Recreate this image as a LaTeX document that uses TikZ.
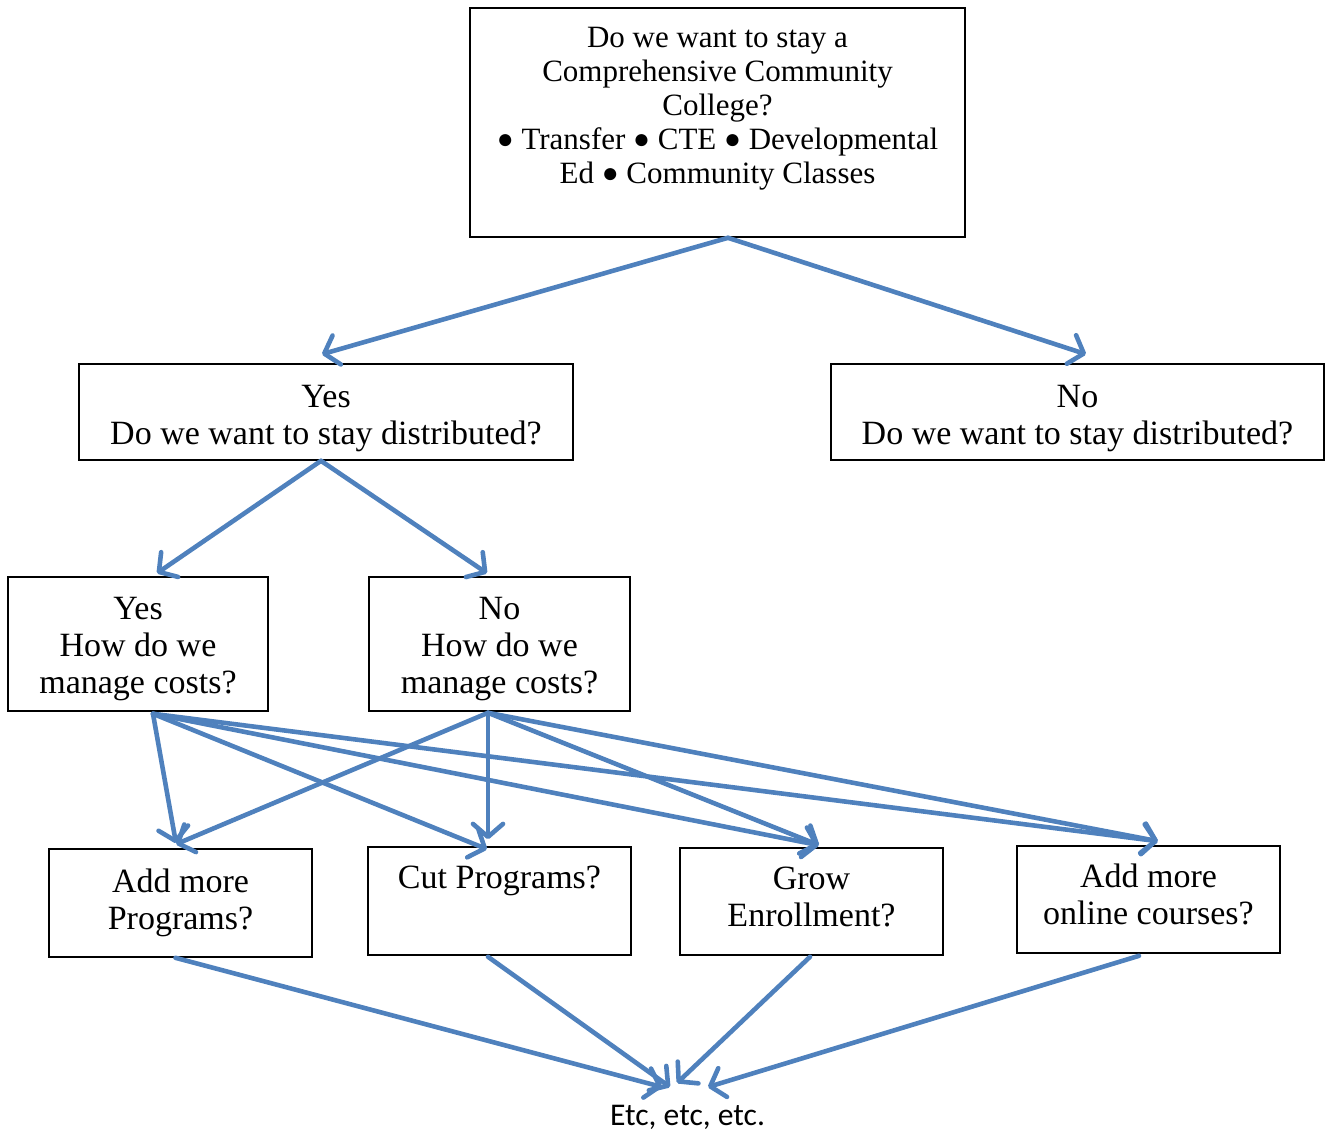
\documentclass[tikz,border=0pt]{standalone}
\usepackage{fontspec}
\setmainfont{Liberation Serif}
\newfontfamily\etcfont{Carlito}
\usetikzlibrary{arrows.meta}
\definecolor{arrowblue}{HTML}{4F81BD}
\newcommand{\tophgt}[1]{\rule{0pt}{#1}}
\newcommand{\botdep}[1]{\rule[-#1]{0pt}{0pt}}
\newcommand{\bul}{\raisebox{1.2pt}{\fontsize{28}{34}\selectfont ●}}
\begin{document}
\begin{tikzpicture}[x=1pt,y=-1pt,
 box/.style={draw=black,line width=1.6pt,inner sep=0pt,align=center,font=\fontsize{34}{37}\selectfont},
 conn/.style={draw=arrowblue,line width=4.6pt,line cap=round,-{Straight Barb[length=13pt,width=30pt,round]}}
]
\useasboundingbox (0,0) rectangle (1325,1133);
\node[box,minimum width=495pt,minimum height=229pt,font=\fontsize{31}{34}\selectfont] (top) at (717.5,122.5) {Do we want to stay a\\Comprehensive Community\\College?\\\bul{} Transfer \bul{} CTE \bul{} Developmental\\Ed \bul{} Community Classes\\\mbox{}};
\node[box,minimum width=494pt,minimum height=96pt] (yes) at (326,412) {\tophgt{35pt}Yes\\Do we want to stay distributed?};
\node[box,minimum width=493pt,minimum height=96pt] (no) at (1077.5,412) {\tophgt{35pt}No\\Do we want to stay distributed?};
\node[box,minimum width=260pt,minimum height=134pt] (yhow) at (138,644) {\tophgt{32pt}Yes\\How do we\\manage costs?};
\node[box,minimum width=261pt,minimum height=134pt] (nhow) at (499.5,644) {\tophgt{32pt}No\\How do we\\manage costs?};
\node[box,minimum width=263pt,minimum height=108pt] (addp) at (180.5,903) {Add more\\Programs?};
\node[box,minimum width=263pt,minimum height=108pt] (cut) at (499.5,901) {Cut Programs?\\\mbox{}\botdep{10pt}};
\node[box,minimum width=263pt,minimum height=107pt] (grow) at (811.5,901.5) {Grow\\Enrollment?\botdep{10pt}};
\node[box,minimum width=263pt,minimum height=107pt] (online) at (1148.5,899.5) {Add more\\online courses?\botdep{10pt}};
\node[font=\etcfont\fontsize{31.6}{36}\selectfont,anchor=base,inner sep=0pt] (etc) at (687.5,1125) {Etc, etc, etc.};
% top level
\draw[conn] ([xshift=10.5pt]top.south) -- ([xshift=-4pt,yshift=9pt]yes.north);
\draw[conn] ([xshift=10.5pt]top.south) -- ([xshift=8.5pt,yshift=9pt]no.north);
% second level
\draw[conn] ([xshift=-5pt]yes.south) -- ([xshift=19pt,yshift=3pt]yhow.north);
\draw[conn] ([xshift=-5pt]yes.south) -- ([xshift=-12.5pt,yshift=3pt]nhow.north);
% from yes-how
\draw[conn] ([xshift=15pt,yshift=-2pt]yhow.south) -- ([xshift=-4.5pt,yshift=5pt]addp.north);
\draw[conn] ([xshift=15pt,yshift=-2pt]yhow.south) -- ([xshift=-12.5pt,yshift=-3pt]cut.north);
\draw[conn] ([xshift=15pt,yshift=-2pt]yhow.south) -- ([xshift=7.5pt,yshift=2pt]grow.north);
\draw[conn] ([xshift=15pt,yshift=-2pt]yhow.south) -- ([xshift=9.5pt,yshift=4pt]online.north);
% from no-how
\draw[conn] ([xshift=-11.5pt,yshift=-1pt]nhow.south) -- ([xshift=-4.5pt,yshift=4pt]addp.north);
\draw[conn] ([xshift=-11.5pt,yshift=-1pt]nhow.south) -- ([xshift=-11.5pt,yshift=7pt]cut.north);
\draw[conn] ([xshift=-11.5pt,yshift=-1pt]nhow.south) -- ([xshift=7.5pt,yshift=2pt]grow.north);
\draw[conn] ([xshift=-11.5pt,yshift=-1pt]nhow.south) -- ([xshift=9.5pt,yshift=4pt]online.north);
% to etc
\draw[conn] ([xshift=-5pt]addp.south) -- ([xshift=-25.5pt,yshift=38pt]etc.base);
\draw[conn] ([xshift=-11.5pt,yshift=-1pt]cut.south) -- ([xshift=-17.5pt,yshift=38pt]etc.base);
\draw[conn] ([xshift=-1.5pt,yshift=-1pt]grow.south) -- ([xshift=-10.5pt,yshift=42pt]etc.base);
\draw[conn] ([xshift=-9.5pt,yshift=-2pt]online.south) -- ([xshift=20.5pt,yshift=38pt]etc.base);
\end{tikzpicture}
\end{document}
